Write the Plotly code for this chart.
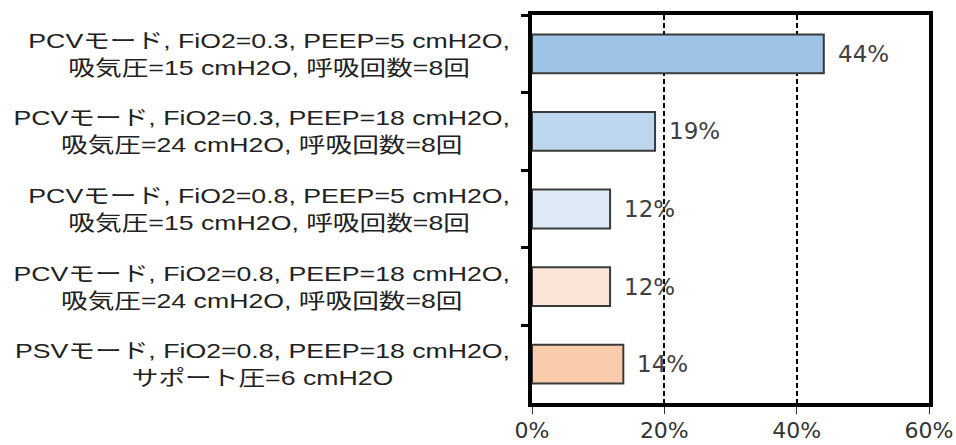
import plotly.graph_objects as go

categories = [
    "PCVモード, FiO2=0.3, PEEP=5 cmH2O,<br>吸気圧=15 cmH2O, 呼吸回数=8回",
    "PCVモード, FiO2=0.3, PEEP=18 cmH2O,<br>吸気圧=24 cmH2O, 呼吸回数=8回",
    "PCVモード, FiO2=0.8, PEEP=5 cmH2O,<br>吸気圧=15 cmH2O, 呼吸回数=8回",
    "PCVモード, FiO2=0.8, PEEP=18 cmH2O,<br>吸気圧=24 cmH2O, 呼吸回数=8回",
    "PSVモード, FiO2=0.8, PEEP=18 cmH2O,<br>サポート圧=6 cmH2O",
]
shares = [0.441, 0.186, 0.118, 0.118, 0.138]
bar_colors = ["#9DC3E6", "#BDD7EE", "#DEEBF7", "#FBE5D6", "#F8CBAD"]
x_ticks = [0, 0.2, 0.4, 0.6]

LABEL_FONT = "Liberation Sans, Arial, Noto Sans CJK JP, sans-serif"
NUM_FONT = "DejaVu Sans, Liberation Sans, sans-serif"
W, H = 956, 445
ML, MR, MT, MB = 532, 27, 15, 42
LABEL_RIGHT = 518      # right edge of the category label text box, px
LABEL_STRETCH = 1.27   # horizontal widening of the category labels

fig = go.Figure(
    go.Bar(
        x=shares,
        y=categories,
        orientation="h",
        width=0.5,
        marker=dict(color=bar_colors, line=dict(color="#3a3a3a", width=2)),
        hoverinfo="skip",
    )
)

# value labels to the right of each bar
for cat, v in zip(categories, shares):
    fig.add_annotation(
        x=v, y=cat, xref="x", yref="y",
        text=f"{v:.0%}", showarrow=False,
        xanchor="left", yanchor="middle", xshift=12,
        font=dict(family=NUM_FONT, size=23, color="#404040"),
    )

# category labels: right-anchored blocks with centred lines
n_value_labels = len(categories)
for cat in categories:
    fig.add_annotation(
        x=-(ML - 508) / (W - ML - MR), y=cat, xref="paper", yref="y",
        text=cat, showarrow=False,
        xanchor="right", yanchor="middle", align="center",
        font=dict(family=LABEL_FONT, size=21, color="#222222"),
    )

fig.update_layout(
    width=W, height=H,
    margin=dict(l=ML, r=MR, t=MT, b=MB, pad=0),
    paper_bgcolor="white", plot_bgcolor="white",
    showlegend=False,
    bargap=0.5,
)
fig.update_xaxes(
    range=[0, 0.6], tickvals=x_ticks, tickformat=".0%",
    showgrid=True, gridcolor="black", gridwidth=1.5, griddash="5px,3px",
    showline=True, linecolor="black", linewidth=4, mirror=True,
    ticks="outside", ticklen=7, tickwidth=1, tickcolor="#333333",
    tickfont=dict(family=NUM_FONT, size=22, color="#333333"),
    ticklabelstandoff=-2,
    zeroline=False, fixedrange=True, automargin=False,
)
fig.update_yaxes(
    type="category", categoryorder="array", categoryarray=categories,
    autorange="reversed", showticklabels=False,
    tickson="boundaries", ticks="outside", ticklen=7, tickwidth=3, tickcolor="black",
    showline=True, linecolor="black", linewidth=4, mirror=True,
    showgrid=False, zeroline=False, fixedrange=True, automargin=False,
)

# widen the category label text, then pin its right edge in place
post_js = """
var root = document.getElementById('{plot_id}');
var anns = root.querySelectorAll('g.annotation');
var target = %f, s = %f;
anns.forEach(function(g) {
    var idx = parseInt(g.getAttribute('data-index'), 10);
    if (idx < %d) return;
    var t = g.querySelector('text.annotation-text');
    if (!t) return;
    var bb = t.getBBox();
    var rx = bb.x + bb.width;
    var base = 'scale(' + s + ',1) translate(' + (-rx) + ',0)';
    t.setAttribute('transform', 'translate(' + rx + ',0) ' + base);
    var shift = target - t.getBoundingClientRect().right;
    t.setAttribute('transform', 'translate(' + (rx + shift) + ',0) ' + base);
});
""" % (LABEL_RIGHT, LABEL_STRETCH, n_value_labels)

fig.write_html("out.html", config={"displayModeBar": False}, post_script=post_js)
